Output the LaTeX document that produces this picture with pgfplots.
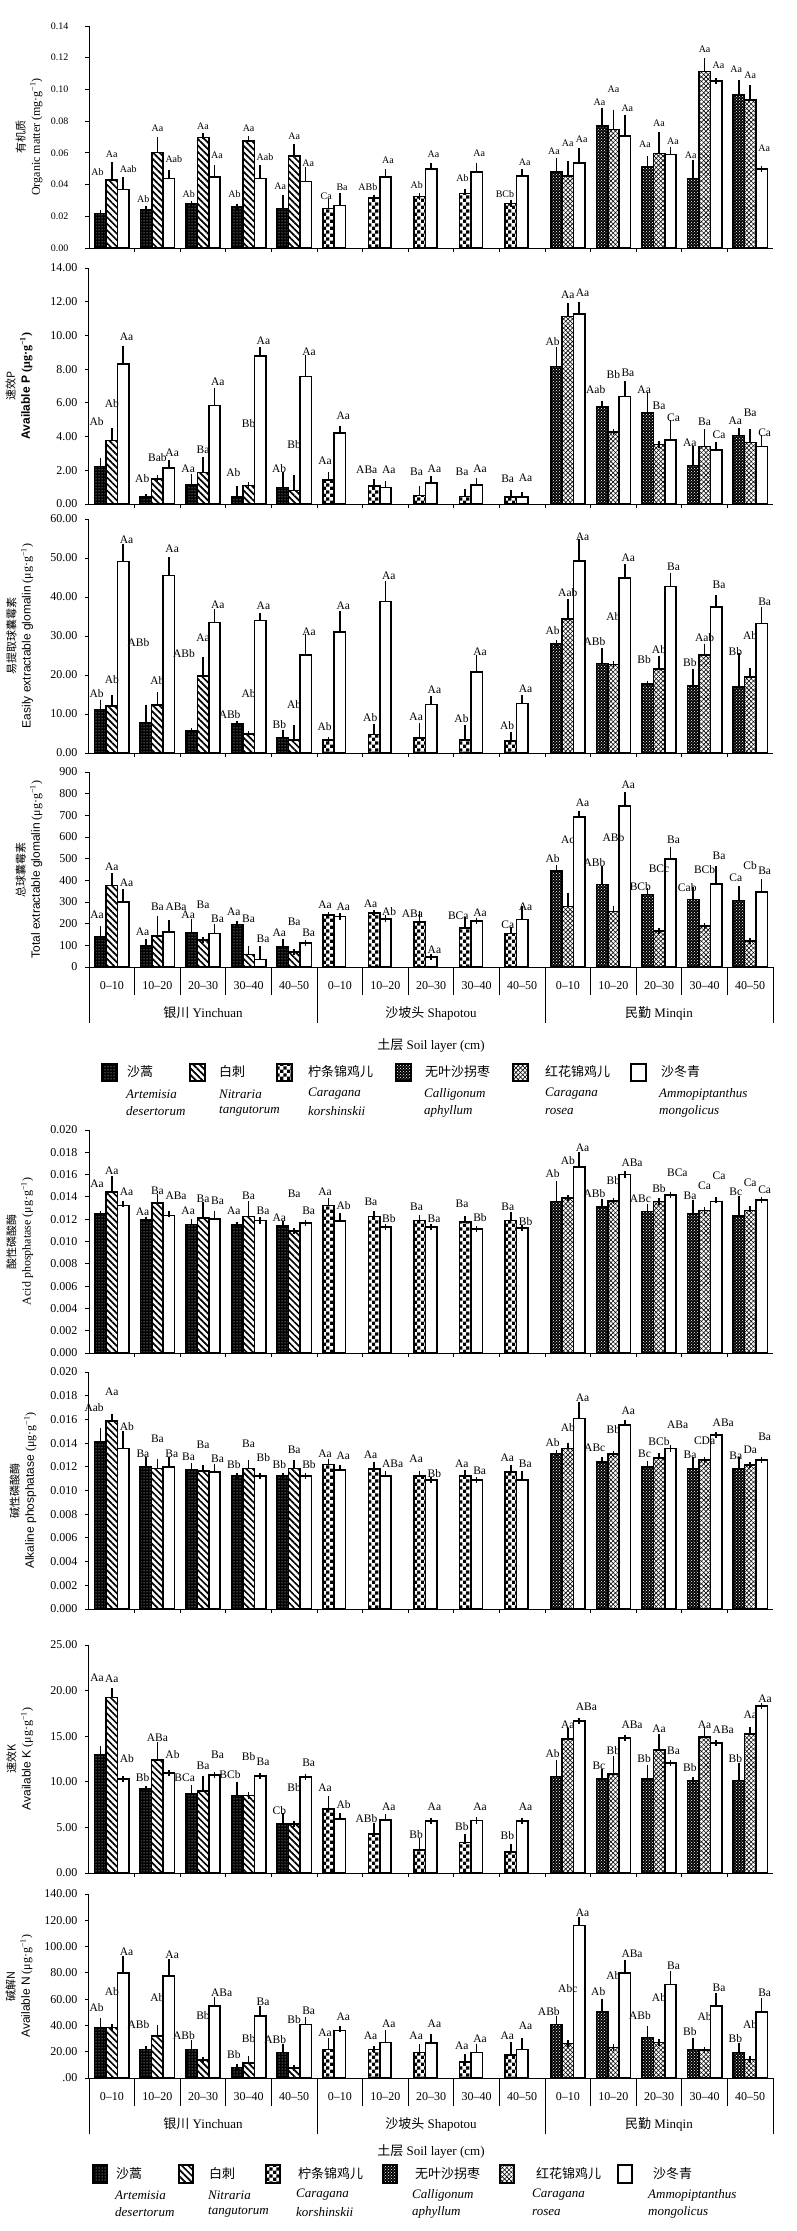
\documentclass[border=0pt]{standalone}
\usepackage{fontspec}
\setmainfont{Liberation Serif}
\setsansfont{Liberation Sans}
\newfontfamily\cjk{Noto Sans CJK SC}
\usepackage{pgfplots}
\usepackage{pgfplotstable}
\pgfplotsset{compat=1.18}
\usetikzlibrary{patterns,patterns.meta}

\pgfdeclarepatternformonly{bigcheck}{\pgfpointorigin}{\pgfpoint{7.2pt}{7.2pt}}{\pgfpoint{7.2pt}{7.2pt}}{%
  \pgfpathrectangle{\pgfpointorigin}{\pgfpoint{3.6pt}{3.6pt}}%
  \pgfpathrectangle{\pgfpoint{3.6pt}{3.6pt}}{\pgfpoint{3.6pt}{3.6pt}}%
  \pgfusepath{fill}}

\tikzset{
  sp1/.style={preaction={fill=black}, preaction={pattern=dots, pattern color=white}},
  sp2/.style={preaction={fill=white}, preaction={pattern={Lines[angle=-45,distance=4.6pt,line width=1.7pt]}, pattern color=black}},
  sp3/.style={preaction={fill=white}, preaction={pattern=bigcheck, pattern color=black}},
  sp4/.style={preaction={fill=black}, preaction={pattern=crosshatch dots, pattern color=white}},
  sp5/.style={preaction={fill=white},
    preaction={pattern={Lines[angle=45,distance=3.2pt,line width=0.6pt]}, pattern color=black},
    preaction={pattern={Lines[angle=-45,distance=3.2pt,line width=0.6pt]}, pattern color=black}},
  sp6/.style={preaction={fill=white}},
}

\pgfplotsset{
  panel/.style={
    scale only axis, width=684pt, anchor=south west,
    xmin=-0.5, xmax=14.5, ymin=0,
    axis x line*=bottom, axis y line*=left,
    axis line style={line width=1pt, black, -},
    xtick={0.5,1.5,...,13.5}, xticklabels={},
    tick align=outside, major tick length=4pt,
    tick style={line width=1pt, black},
    scaled y ticks=false, clip=false,
    yticklabel style={font=\fontsize{12}{12}\selectfont, xshift=-4pt},
    ylabel style={align=center, anchor=center, font=\fontsize{12}{15}\selectfont},
  },
  barbase/.style={
    ybar, bar width=0.25, bar shift=0pt, draw=black, line width=1.6pt,
    error bars/y dir=plus, error bars/y explicit, error bars/error mark=-,
    error bars/error bar style={line width=1.6pt, black},
    error bars/error mark options={line width=1.6pt, black, mark size=3.2pt},
  },
  labbase/.style={draw=none, mark=none, forget plot, nodes near coords,
    point meta=explicit symbolic},
}

% s: 1 sp1, 2 sp3, 3 sp4 (left slot); 4 sp2, 5 sp5 (middle); 6 sp6 Shapotou, 7 sp6 Yinchuan, 8 sp6 Minqin
\newcommand\bars[2]{%
  \addplot[barbase, sp1] table[x=x, y=y, y error=e, restrict expr to domain={\thisrow{s}}{0.5:1.5}] {#1};
  \addplot[barbase, sp3] table[x=x, y=y, y error=e, restrict expr to domain={\thisrow{s}}{1.5:2.5}] {#1};
  \addplot[barbase, sp4] table[x=x, y=y, y error=e, restrict expr to domain={\thisrow{s}}{2.5:3.5}] {#1};
  \addplot[barbase, sp2] table[x=x, y=y, y error=e, restrict expr to domain={\thisrow{s}}{3.5:4.5}] {#1};
  \addplot[barbase, sp5] table[x=x, y=y, y error=e, restrict expr to domain={\thisrow{s}}{4.5:5.5}] {#1};
  \addplot[barbase, sp6] table[x=x, y=y, y error=e, restrict expr to domain={\thisrow{s}}{5.5:8.5}] {#1};
  \addplot[labbase, nodes near coords style={anchor=east, xshift=3.5pt, inner sep=0pt, font=\fontsize{#2}{#2}\selectfont}]
    table[x=x, y=ly, meta=lab, restrict expr to domain={\thisrow{s}}{0.5:3.5}] {#1};
  \addplot[labbase, nodes near coords style={anchor=center, inner sep=0pt, font=\fontsize{#2}{#2}\selectfont}]
    table[x=x, y=ly, meta=lab, restrict expr to domain={\thisrow{s}}{3.5:5.5}] {#1};
  \addplot[labbase, nodes near coords style={anchor=west, xshift=-3.5pt, inner sep=0pt, font=\fontsize{#2}{#2}\selectfont}]
    table[x=x, y=ly, meta=lab, restrict expr to domain={\thisrow{s}}{5.5:8.5}] {#1};
}

% organic matter
\pgfplotstableread{
x y e ly lab s
-0.25 0.0217 0 0.0476 Ab 1
0 0.0427 0.0095 0.0589 Aa 4
0.25 0.0368 0.0059 0.0497 Aab 7
0.75 0.0242 0 0.0307 Ab 1
1 0.0602 0.0078 0.0754 Aa 4
1.25 0.0438 0.0032 0.0558 Aab 7
1.75 0.0276 0 0.0343 Ab 1
2 0.0697 0.0008 0.0768 Aa 4
2.25 0.0448 0.0053 0.0585 Aa 7
2.75 0.0259 0 0.0343 Ab 1
3 0.0674 0.0012 0.0758 Aa 4
3.25 0.0438 0.0063 0.0571 Aab 7
3.75 0.0248 0.0064 0.0389 Aa 1
4 0.0581 0.0057 0.0705 Aa 4
4.25 0.0419 0.0072 0.0533 Aa 7
4.75 0.0248 0.0038 0.0326 Ca 2
5 0.0269 0.0059 0.0385 Ba 6
5.75 0.0316 0 0.0385 ABb 2
6 0.0448 0.0032 0.0554 Aa 6
6.75 0.0326 0 0.0396 Ab 2
7 0.0497 0.0021 0.0592 Aa 6
7.75 0.0343 0.0011 0.0438 Ab 2
8 0.0480 0.0038 0.0600 Aa 6
8.75 0.0280 0 0.0339 BCb 2
9 0.0453 0.0027 0.0543 Aa 6
9.75 0.0480 0.0070 0.0611 Aa 3
10 0.0455 0.0073 0.0663 Aa 5
10.25 0.0537 0.0073 0.0684 Aa 8
10.75 0.0768 0.0097 0.0922 Aa 3
11 0.0747 0.0106 0.1000 Aa 5
11.25 0.0707 0.0114 0.0880 Aa 8
11.75 0.0512 0.0046 0.0655 Aa 3
12 0.0596 0.0116 0.0785 Aa 5
12.25 0.0589 0.0028 0.0676 Aa 8
12.75 0.0438 0.0095 0.0585 Aa 3
13 0.1112 0.0063 0.1253 Aa 5
13.25 0.1055 0 0.1154 Aa 8
13.75 0.0964 0.0078 0.1126 Aa 3
14 0.0933 0.0077 0.1091 Aa 5
14.25 0.0497 0 0.0632 Aa 8
}\tA

% available P
\pgfplotstableread{
x y e ly lab s
-0.25 2.22 0.29 4.89 Ab 1
0 3.76 0.54 5.94 Ab 4
0.25 8.32 0.87 9.90 Aa 7
0.75 0.40 0 1.52 Ab 1
1 1.47 0.09 2.77 Bab 4
1.25 2.12 0.30 3.05 Aa 7
1.75 1.13 0.49 2.12 Aa 1
2 1.86 0.71 3.21 Ba 4
2.25 5.84 0.83 7.23 Aa 7
2.75 0.40 0.47 1.86 Ab 1
3 1.09 0 4.75 Bb 4
3.25 8.79 0.36 9.70 Aa 7
3.75 0.97 0.71 2.08 Ab 1
4 0.79 0.73 3.50 Bb 4
4.25 7.56 1.07 9.05 Aa 7
4.75 1.43 0.25 2.57 Aa 2
5 4.20 0.26 5.25 Aa 6
5.75 1.07 0.20 2.06 ABa 2
6 0.97 0.20 2.06 Aa 6
6.75 0.50 0.37 1.92 Ba 2
7 1.23 0.26 2.12 Aa 6
7.75 0.44 0.29 1.92 Ba 2
8 1.13 0.20 2.12 Aa 6
8.75 0.40 0.27 1.52 Ba 2
9 0.40 0.13 1.56 Aa 6
9.75 8.16 0.99 9.64 Ab 3
10 11.13 0.59 12.42 Aa 5
10.25 11.27 0.55 12.51 Aa 8
10.75 5.74 0.20 6.77 Aab 3
11 4.26 0 7.66 Bb 5
11.25 6.38 0.73 7.76 Ba 8
11.75 5.39 1.05 6.77 Aa 3
12 3.54 0 5.82 Ba 5
12.25 3.80 0.99 5.13 Ca 8
12.75 2.28 0.99 3.64 Aa 3
13 3.41 0.83 4.85 Ba 5
13.25 3.21 0.29 4.10 Ca 8
13.75 4.06 0.28 4.95 Aa 3
14 3.66 0.58 5.43 Ba 5
14.25 3.41 0.49 4.24 Ca 8
}\tB

% easily extractable glomalin
\pgfplotstableread{
x y e ly lab s
-0.25 11.2 1.7 15.3 Ab 1
0 12.0 2.1 18.9 Ab 4
0.25 49.1 3.7 54.8 Aa 7
0.75 7.8 3.8 28.4 ABb 1
1 12.3 2.4 18.5 Ab 4
1.25 45.5 3.9 52.3 Aa 7
1.75 5.7 0 25.5 ABb 1
2 19.8 4.0 29.5 Aa 4
2.25 33.5 2.7 38.0 Aa 7
2.75 7.4 0 9.9 ABb 1
3 4.8 0 15.3 Ab 4
3.25 34.0 1.1 37.7 Aa 7
3.75 3.9 1.1 7.3 Bb 1
4 3.3 3.1 12.4 Ab 4
4.25 25.1 4.5 31.0 Aa 7
4.75 3.4 0 6.7 Ab 2
5 31.1 4.5 37.7 Aa 6
5.75 4.7 2.0 9.0 Ab 2
6 38.8 4.5 45.5 Aa 6
6.75 3.9 3.0 9.3 Aa 2
7 12.4 1.3 16.1 Aa 6
7.75 3.3 3.0 8.8 Ab 2
8 20.8 3.5 26.0 Aa 6
8.75 3.1 1.4 7.1 Ab 2
9 12.7 1.3 16.4 Aa 6
9.75 28.1 0 31.5 Ab 3
10 34.4 4.2 41.2 Aab 5
10.25 49.3 4.7 55.5 Aa 8
10.75 23.0 3.1 28.5 ABb 3
11 22.7 0 35.0 Ab 5
11.25 44.8 2.8 50.0 Aa 8
11.75 17.7 0 24.0 Bb 3
12 21.5 2.6 26.4 Ab 5
12.25 42.7 2.7 47.8 Ba 8
12.75 17.2 3.4 23.2 Bb 3
13 25.1 2.1 29.6 Aab 5
13.25 37.4 2.4 43.1 Ba 8
13.75 17.0 7.7 26.0 Bb 3
14 19.5 1.6 30.0 Ab 5
14.25 33.2 3.3 38.8 Ba 8
}\tC

% total extractable glomalin
\pgfplotstableread{
x y e ly lab s
-0.25 139 34 242 Aa 1
0 376 43 462 Aa 4
0.25 300 45 388 Aa 7
0.75 96 20 162 Aa 1
1 142 80 277 Ba 4
1.25 162 41 280 ABa 7
1.75 160 46 242 Aa 1
2 126 0 285 Ba 4
2.25 154 31 222 Ba 7
2.75 196 0 257 Aa 1
3 57 26 223 Ba 4
3.25 34 46 131 Ba 7
3.75 92 24 157 Aa 1
4 68 0 211 Ba 4
4.25 111 0 157 Ba 7
4.75 239 0 288 Aa 2
5 234 0 280 Aa 6
5.75 250 0 291 Aa 2
6 223 0 254 Ab 6
6.75 208 34 247 ABa 2
7 46 0 80 Aa 6
7.75 180 36 237 BCa 2
8 211 0 250 Aa 6
8.75 154 14 196 Ca 2
9 219 46 280 Aa 6
9.75 442 13 501 Ab 3
10 280 47 589 Ac 5
10.25 692 15 758 Aa 8
10.75 381 69 480 ABb 3
11 257 11 596 ABb 5
11.25 743 51 840 Aa 8
11.75 334 16 373 BCb 3
12 165 0 453 BCc 5
12.25 499 40 589 Ba 8
12.75 311 42 368 Cab 3
13 188 0 450 BCb 5
13.25 384 66 512 Ba 8
13.75 307 50 411 Ca 3
14 119 0 468 Cb 5
14.25 345 46 442 Ba 8
}\tD

% acid phosphatase
\pgfplotstableread{
x y e ly lab s
-0.25 0.01248 0 0.01516 Aa 1
0 0.01442 0.00113 0.01636 Aa 4
0.25 0.01322 0.00015 0.01442 Aa 7
0.75 0.01194 0 0.01263 Aa 1
1 0.01343 0.00054 0.01457 Ba 4
1.25 0.01233 0.00015 0.01412 ABa 7
1.75 0.01152 0.00021 0.01278 Aa 1
2 0.01209 0.00113 0.01382 Ba 4
2.25 0.01203 0.00045 0.01367 Ba 7
2.75 0.01149 0 0.01278 Aa 1
3 0.01224 0.00107 0.01412 Ba 4
3.25 0.01188 0 0.01278 Ba 7
3.75 0.01137 0.00015 0.01212 Aa 1
4 0.01093 0 0.01427 Ba 4
4.25 0.01167 0 0.01278 Ba 7
4.75 0.01322 0.00039 0.01442 Aa 2
5 0.01182 0.00042 0.01322 Ab 6
5.75 0.01224 0.00024 0.01352 Ba 2
6 0.01128 0 0.01203 Bb 6
6.75 0.01188 0.00024 0.01307 Ba 2
7 0.01128 0 0.01203 Ba 6
7.75 0.01173 0.00030 0.01337 Ba 2
8 0.01113 0 0.01218 Bb 6
8.75 0.01188 0.00045 0.01307 Ba 2
9 0.01119 0 0.01182 Bb 6
9.75 0.01358 0.00152 0.01610 Ab 3
10 0.01388 0 0.01725 Ab 5
10.25 0.01666 0.00104 0.01845 Aa 8
10.75 0.01307 0.00045 0.01427 ABb 3
11 0.01361 0 0.01546 Bb 5
11.25 0.01600 0 0.01710 ABa 8
11.75 0.01269 0.00038 0.01382 ABc 3
12 0.01358 0 0.01472 Bb 5
12.25 0.01418 0 0.01621 BCa 8
12.75 0.01248 0.00098 0.01412 Ba 3
13 0.01278 0 0.01501 Ca 5
13.25 0.01358 0.00015 0.01591 Ca 8
13.75 0.01227 0.00155 0.01442 Bc 3
14 0.01278 0.00015 0.01531 Ca 5
14.25 0.01373 0 0.01463 Ca 8
}\tE

% alkaline phosphatase
\pgfplotstableread{
x y e ly lab s
-0.25 0.01411 0.00092 0.01697 Aab 1
0 0.01585 0.00036 0.01832 Aa 4
0.25 0.01355 0.00118 0.01537 Ab 7
0.75 0.01201 0.00056 0.01313 Ba 1
1 0.01187 0.00050 0.01439 Ba 4
1.25 0.01201 0.00056 0.01313 Ba 7
1.75 0.01173 0.00033 0.01285 Ba 1
2 0.01164 0.00022 0.01383 Ba 4
2.25 0.01158 0.00043 0.01271 Ba 7
2.75 0.01125 0 0.01215 Bb 1
3 0.01187 0.00047 0.01391 Ba 4
3.25 0.01122 0 0.01279 Bb 7
3.75 0.01125 0 0.01215 Bb 1
4 0.01187 0.00047 0.01341 Ba 4
4.25 0.01122 0 0.01215 Bb 7
4.75 0.01220 0.00023 0.01313 Aa 2
5 0.01173 0.00019 0.01293 Aa 6
5.75 0.01181 0.00034 0.01304 Aa 2
6 0.01122 0.00017 0.01223 ABa 6
6.75 0.01125 0.00014 0.01265 Aa 2
7 0.01088 0 0.01144 Bb 6
7.75 0.01122 0.00022 0.01229 Aa 2
8 0.01088 0 0.01164 Ba 6
8.75 0.01158 0.00034 0.01276 Aa 2
9 0.01088 0.00048 0.01229 Ba 6
9.75 0.01313 0 0.01405 Ab 3
10 0.01355 0.00022 0.01532 Ab 5
10.25 0.01607 0.00113 0.01784 Aa 8
10.75 0.01243 0.00014 0.01363 ABc 3
11 0.01307 0 0.01518 Bb 5
11.25 0.01551 0.00020 0.01677 Aa 8
11.75 0.01201 0.00025 0.01313 Bc 3
12 0.01276 0.00014 0.01417 BCb 5
12.25 0.01355 0 0.01551 ABa 8
12.75 0.01181 0.00076 0.01304 Ba 3
13 0.01257 0 0.01417 CDa 5
13.25 0.01467 0 0.01571 ABa 8
13.75 0.01181 0.00076 0.01290 Ba 3
14 0.01215 0 0.01340 Da 5
14.25 0.01257 0 0.01453 Ba 8
}\tF

% available K
\pgfplotstableread{
x y e ly lab s
-0.25 12.96 0.62 21.42 Aa 1
0 19.23 0.73 21.28 Aa 4
0.25 10.29 0 12.59 Ab 7
0.75 9.20 0 10.44 Bb 1
1 12.41 1.57 14.85 ABa 4
1.25 10.95 0 13.03 Ab 7
1.75 8.69 0.62 10.40 BCa 1
2 9.01 1.28 11.79 Ba 4
2.25 10.77 0 12.96 Ba 7
2.75 8.50 1.17 10.84 BCb 1
3 8.50 0 12.77 Bb 4
3.25 10.66 0 12.23 Ba 7
3.75 5.40 0.88 6.82 Cb 1
4 5.40 0 9.38 Bb 4
4.25 10.51 0 12.04 Ba 7
4.75 7.01 1.09 9.31 Aa 2
5 5.95 0.33 7.48 Ab 6
5.75 4.27 0.91 6.02 ABb 2
6 5.84 0.25 7.30 Aa 6
6.75 2.55 0.92 4.20 Bb 2
7 5.73 0 7.23 Aa 6
7.75 3.36 0.55 5.11 Bb 2
8 5.77 0 7.23 Aa 6
8.75 2.30 0.55 4.12 Bb 2
9 5.73 0 7.23 Aa 6
9.75 10.58 1.46 13.14 Ab 3
10 14.67 0.91 16.31 Aa 5
10.25 16.68 0 18.25 ABa 8
10.75 10.29 0.73 11.79 Bc 3
11 10.84 1.64 13.39 Bb 5
11.25 14.78 0 16.24 ABa 8
11.75 10.33 1.17 12.52 Bb 3
12 13.50 1.35 15.80 Aa 5
12.25 12.04 0 13.39 Ba 8
12.75 10.15 0 11.61 Bb 3
13 14.89 0.69 16.31 Aa 5
13.25 14.23 0 15.69 ABa 8
13.75 10.15 1.53 12.52 Bb 3
14 15.22 0.47 17.34 Aa 5
14.25 18.32 0 19.16 Aa 8
}\tG

% available N
\pgfplotstableread{
x y e ly lab s
-0.25 38.4 5.0 53.4 Ab 1
0 38.4 0 65.5 Ab 4
0.25 80.0 10.4 96.0 Aa 7
0.75 21.8 0 40.9 ABb 1
1 32.0 6.1 61.0 Ab 4
1.25 77.7 10.2 93.5 Aa 7
1.75 21.8 4.4 32.0 ABb 1
2 13.5 0 47.3 Bb 4
2.25 54.6 4.6 64.8 ABa 7
2.75 7.9 0 17.8 Bb 1
3 11.4 2.8 30.0 Bb 4
3.25 47.3 5.0 57.9 Ba 7
3.75 19.3 4.3 29.2 ABb 1
4 7.6 0 44.5 Bb 4
4.25 40.7 3.3 50.8 Ba 7
4.75 21.8 6.4 34.6 Aa 2
5 36.3 0.8 46.5 Aa 6
5.75 21.8 0 32.5 Aa 2
6 26.9 6.9 41.4 Aa 6
6.75 19.3 4.3 32.0 Aa 2
7 26.7 4.6 41.4 Aa 6
7.75 12.2 3.8 24.4 Aa 2
8 19.3 3.8 30.0 Aa 6
8.75 17.3 7.6 32.0 Aa 2
9 21.8 6.4 40.1 Aa 6
9.75 40.7 4.0 50.8 ABb 3
10 26.2 0 68.1 Abc 5
10.25 115.9 4.3 126.0 Aa 8
10.75 50.3 7.6 65.5 Ab 3
11 23.1 0 78.3 Ab 5
11.25 80.0 7.7 94.8 ABa 8
11.75 30.7 6.4 47.3 ABb 3
12 26.9 0 61.2 Ab 5
12.25 71.1 7.7 85.1 Ba 8
12.75 21.8 6.1 35.1 Bb 3
13 21.1 0 47.0 Ab 5
13.25 54.6 7.6 68.9 Ba 8
13.75 19.3 5.1 30.0 Bb 3
14 14.0 0 40.9 Ab 5
14.25 50.3 8.1 65.0 Ba 8
}\tH

\newcommand\xdeco[1]{%
  \foreach \i in {1,2,3,4,6,7,8,9,11,12,13,14}
    \draw[line width=1pt] ({89pt+45.6pt*\i},{-#1pt}) -- ++(0,-28pt);
  \foreach \i in {0,5,10,15}
    \draw[line width=1pt] ({89pt+45.6pt*\i},{-#1pt}) -- ++(0,-56pt);
  \foreach \i/\t in {0/0–10,1/10–20,2/20–30,3/30–40,4/40–50,5/0–10,6/10–20,7/20–30,8/30–40,9/40–50,10/0–10,11/10–20,12/20–30,13/30–40,14/40–50}
    \node[font=\fontsize{12}{12}\selectfont] at ({89pt+45.6pt*(\i+0.5)},{-#1pt-19pt}) {\t};
  \node[font=\fontsize{13}{13}\selectfont] at (203pt,{-#1pt-46pt}) {{\cjk 银川} Yinchuan};
  \node[font=\fontsize{13}{13}\selectfont] at (431pt,{-#1pt-46pt}) {{\cjk 沙坡头} Shapotou};
  \node[font=\fontsize{13}{13}\selectfont] at (659pt,{-#1pt-46pt}) {{\cjk 民勤} Minqin};
}

\begin{document}
\begin{tikzpicture}
\useasboundingbox (0,0) rectangle (797pt,-2231pt);

\begin{axis}[panel, at={(89pt,-248pt)}, height=222pt, ymax=0.14,
  ytick={0,0.02,0.04,0.06,0.08,0.1,0.12,0.14},
  yticklabels={0.00,0.02,0.04,0.06,0.08,0.10,0.12,0.14},
  yticklabel style={font=\fontsize{10}{10}\selectfont, xshift=-9pt},
  ylabel={{\cjk\fontsize{11}{11}\selectfont 有机质}\\Organic matter (mg·g\textsuperscript{−1})},
  ylabel style={at={(axis description cs:-0.0877,0.5)}}]
\bars{\tA}{10}
\end{axis}

\begin{axis}[panel, at={(89pt,-504pt)}, height=236pt, ymax=14,
  ytick={0,2,...,14},
  yticklabels={0.00,2.00,4.00,6.00,8.00,10.00,12.00,14.00},
  ylabel={{\cjk\fontsize{11}{11}\selectfont 速效P}\\{\sffamily\bfseries Available P }{\bfseries(μg·g\textsuperscript{−1})}},
  ylabel style={at={(axis description cs:-0.1023,0.5)}}]
\bars{\tB}{11.5}
\end{axis}

\begin{axis}[panel, at={(89pt,-753pt)}, height=234pt, ymax=60,
  ytick={0,10,...,60},
  yticklabels={0.00,10.00,20.00,30.00,40.00,50.00,60.00},
  ylabel={{\cjk\fontsize{11}{11}\selectfont 易提取球囊霉素}\\{\sffamily Easily extractable glomalin} (μg·g\textsuperscript{−1})},
  ylabel style={at={(axis description cs:-0.1010,0.5)}}]
\bars{\tC}{11.5}
\end{axis}

\begin{axis}[panel, at={(89pt,-967pt)}, height=195pt, ymax=900,
  ytick={0,100,...,900},
  yticklabels={0,100,200,300,400,500,600,700,800,900},
  ylabel={{\cjk\fontsize{11}{11}\selectfont 总球囊霉素}\\{\sffamily Total extractable glomalin} (μg·g\textsuperscript{−1})},
  ylabel style={at={(axis description cs:-0.0877,0.5)}}]
\bars{\tD}{11.5}
\end{axis}

\xdeco{967}
\node[font=\fontsize{13}{13}\selectfont] at (431pt,-1045pt) {{\cjk 土层} Soil layer (cm)};
\draw[sp1, line width=1.4pt] (102pt,-1064pt) rectangle ++(15pt,-17pt);
\draw[sp2, line width=1.4pt] (190pt,-1064pt) rectangle ++(15pt,-17pt);
\draw[sp3, line width=1.4pt] (277pt,-1064pt) rectangle ++(15pt,-17pt);
\draw[sp4, line width=1.4pt] (396pt,-1064pt) rectangle ++(15pt,-17pt);
\draw[sp5, line width=1.4pt] (513pt,-1064pt) rectangle ++(15pt,-17pt);
\draw[sp6, line width=1.4pt] (631pt,-1064pt) rectangle ++(15pt,-17pt);
\begin{scope}[every node/.style={anchor=west, inner sep=0pt, font=\cjk\fontsize{13}{13}\selectfont}]
\node at (127pt,-1072pt) {沙蒿};
\node at (219pt,-1072pt) {白刺};
\node at (308pt,-1072pt) {柠条锦鸡儿};
\node at (425pt,-1072pt) {无叶沙拐枣};
\node at (545pt,-1072pt) {红花锦鸡儿};
\node at (661pt,-1072pt) {沙冬青};
\end{scope}
\begin{scope}[every node/.style={anchor=west, inner sep=0pt, font=\itshape\fontsize{13}{13}\selectfont}]
\node at (126pt,-1094pt) {Artemisia};   \node at (126pt,-1111pt) {desertorum};
\node at (219pt,-1094pt) {Nitraria};    \node at (219pt,-1111pt) {tangutorum};
\node at (308pt,-1094pt) {Caragana};    \node at (308pt,-1111pt) {korshinskii};
\node at (424pt,-1094pt) {Calligonum};  \node at (424pt,-1111pt) {aphyllum};
\node at (545pt,-1094pt) {Caragana};    \node at (545pt,-1111pt) {rosea};
\node at (659pt,-1094pt) {Ammopiptanthus}; \node at (659pt,-1111pt) {mongolicus};
\end{scope}

\begin{axis}[panel, at={(89pt,-1353pt)}, height=223pt, ymax=0.02,
  ytick={0,0.002,0.004,0.006,0.008,0.01,0.012,0.014,0.016,0.018,0.02},
  yticklabels={0.000,0.002,0.004,0.006,0.008,0.010,0.012,0.014,0.016,0.018,0.020},
  ylabel={{\cjk\fontsize{11}{11}\selectfont 酸性磷酸酶}\\Acid phosphatase (μg·g\textsuperscript{−1})},
  ylabel style={at={(axis description cs:-0.1010,0.5)}}]
\bars{\tE}{11.5}
\end{axis}

\begin{axis}[panel, at={(89pt,-1609pt)}, height=237pt, ymax=0.02,
  ytick={0,0.002,0.004,0.006,0.008,0.01,0.012,0.014,0.016,0.018,0.02},
  yticklabels={0.000,0.002,0.004,0.006,0.008,0.010,0.012,0.014,0.016,0.018,0.020},
  ylabel={{\cjk\fontsize{11}{11}\selectfont 碱性磷酸酶}\\{\sffamily Alkaline phosphatase} (μg·g\textsuperscript{−1})},
  ylabel style={at={(axis description cs:-0.0965,0.5)}}]
\bars{\tF}{11.5}
\end{axis}

\begin{axis}[panel, at={(89pt,-1873pt)}, height=228pt, ymax=25,
  ytick={0,5,...,25},
  yticklabels={0.00,5.00,10.00,15.00,20.00,25.00},
  ylabel={{\cjk\fontsize{11}{11}\selectfont 速效K}\\{\sffamily Available K} (μg·g\textsuperscript{−1})},
  ylabel style={at={(axis description cs:-0.1010,0.5)}}]
\bars{\tG}{11.5}
\end{axis}

\begin{axis}[panel, at={(89pt,-2078pt)}, height=184pt, ymax=140,
  ytick={0,20,...,140},
  yticklabels={.00,20.00,40.00,60.00,80.00,100.00,120.00,140.00},
  ylabel={{\cjk\fontsize{11}{11}\selectfont 碱解N}\\{\sffamily Available N} (μg·g\textsuperscript{−1})},
  ylabel style={at={(axis description cs:-0.1023,0.5)}}]
\bars{\tH}{11.5}
\end{axis}

\xdeco{2078}
\node[font=\fontsize{13}{13}\selectfont] at (431pt,-2151pt) {{\cjk 土层} Soil layer (cm)};
\draw[sp1, line width=1.4pt] (93pt,-2165pt) rectangle ++(14pt,-18pt);
\draw[sp2, line width=1.4pt] (179pt,-2165pt) rectangle ++(14pt,-18pt);
\draw[sp3, line width=1.4pt] (266pt,-2165pt) rectangle ++(14pt,-18pt);
\draw[sp4, line width=1.4pt] (383pt,-2165pt) rectangle ++(14pt,-18pt);
\draw[sp5, line width=1.4pt] (500pt,-2165pt) rectangle ++(14pt,-18pt);
\draw[sp6, line width=1.4pt] (618pt,-2165pt) rectangle ++(14pt,-18pt);
\begin{scope}[every node/.style={anchor=west, inner sep=0pt, font=\cjk\fontsize{13}{13}\selectfont}]
\node at (116pt,-2174pt) {沙蒿};
\node at (209pt,-2174pt) {白刺};
\node at (298pt,-2174pt) {柠条锦鸡儿};
\node at (415pt,-2174pt) {无叶沙拐枣};
\node at (536pt,-2174pt) {红花锦鸡儿};
\node at (653pt,-2174pt) {沙冬青};
\end{scope}
\begin{scope}[every node/.style={anchor=west, inner sep=0pt, font=\itshape\fontsize{13}{13}\selectfont}]
\node at (115pt,-2195pt) {Artemisia};   \node at (115pt,-2212pt) {desertorum};
\node at (208pt,-2195pt) {Nitraria};    \node at (208pt,-2212pt) {tangutorum};
\node at (296pt,-2195pt) {Caragana};    \node at (296pt,-2212pt) {korshinskii};
\node at (412pt,-2195pt) {Calligonum};  \node at (412pt,-2212pt) {aphyllum};
\node at (532pt,-2195pt) {Caragana};    \node at (532pt,-2212pt) {rosea};
\node at (648pt,-2195pt) {Ammopiptanthus}; \node at (648pt,-2212pt) {mongolicus};
\end{scope}
\end{tikzpicture}
\end{document}
